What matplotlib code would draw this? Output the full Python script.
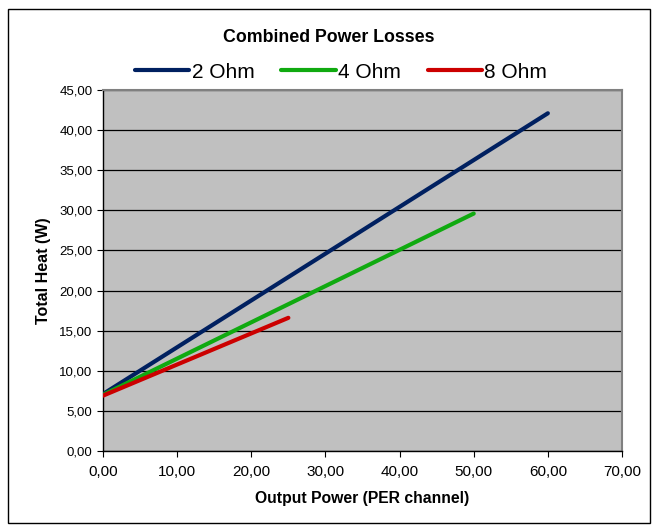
import matplotlib
matplotlib.use("Agg")
import matplotlib.pyplot as plt
from matplotlib.patches import Rectangle
from matplotlib.ticker import FuncFormatter

plt.rcParams['font.family'] = ['Liberation Sans', 'DejaVu Sans']

series_names = ["2 Ohm", "4 Ohm", "8 Ohm"]
x_2ohm = [0, 60]
y_2ohm = [7.1, 42.1]
x_4ohm = [0, 50]
y_4ohm = [7.0, 29.6]
x_8ohm = [0, 25]
y_8ohm = [6.9, 16.6]
colors = ["#002060", "#10AA10", "#CC0000"]

x_ticks = [0, 10, 20, 30, 40, 50, 60, 70]
y_ticks = [0, 5, 10, 15, 20, 25, 30, 35, 40, 45]

fig = plt.figure(figsize=(6.58, 5.32), dpi=100)
fig.patches.append(Rectangle((8/658, 9/532), 642/658, 514/532, transform=fig.transFigure,
                             fill=False, edgecolor='black', linewidth=1.0))
ax = fig.add_axes([103/658, 81/532, 519/658, 361/532])
ax.set_facecolor('#C0C0C0')

for xs, ys, c, n in zip([x_2ohm, x_4ohm, x_8ohm], [y_2ohm, y_4ohm, y_8ohm], colors, series_names):
    ax.plot(xs, ys, color=c, linewidth=3.0, label=n, solid_capstyle='round', zorder=3)

ax.set_xlim(0, 70)
ax.set_ylim(0, 45)
ax.set_xticks(x_ticks)
ax.set_yticks(y_ticks)
fmt = FuncFormatter(lambda v, p: f"{v:.2f}".replace('.', ','))
ax.xaxis.set_major_formatter(fmt)
ax.yaxis.set_major_formatter(fmt)
ax.yaxis.grid(True, color='black', linewidth=0.9)
ax.set_axisbelow(True)
ax.tick_params(direction='out', length=4, colors='black')
ax.tick_params(axis='y', labelsize=9.5)
ax.tick_params(axis='x', labelsize=11, pad=6)
for s in ['top', 'right']:
    ax.spines[s].set_color('#808080')
    ax.spines[s].set_linewidth(1.5)
for s in ['left', 'bottom']:
    ax.spines[s].set_color('black')
    ax.spines[s].set_linewidth(1.0)

ax.set_xlabel("Output Power (PER channel)", fontsize=11.3, fontweight='bold', labelpad=9)
ax.set_ylabel("Total Heat (W)", fontsize=11.5, fontweight='bold', labelpad=6)

fig.text(0.5, 1 - 38/532, "Combined Power Losses", ha='center', va='center',
         fontsize=12.8, fontweight='bold')
fig.legend(loc='center', bbox_to_anchor=(341/658, 1 - 72/532), ncol=3, frameon=False,
           fontsize=15, handlelength=2.6, handletextpad=0.1, columnspacing=1.3)

fig.savefig("out.png", dpi=100)
